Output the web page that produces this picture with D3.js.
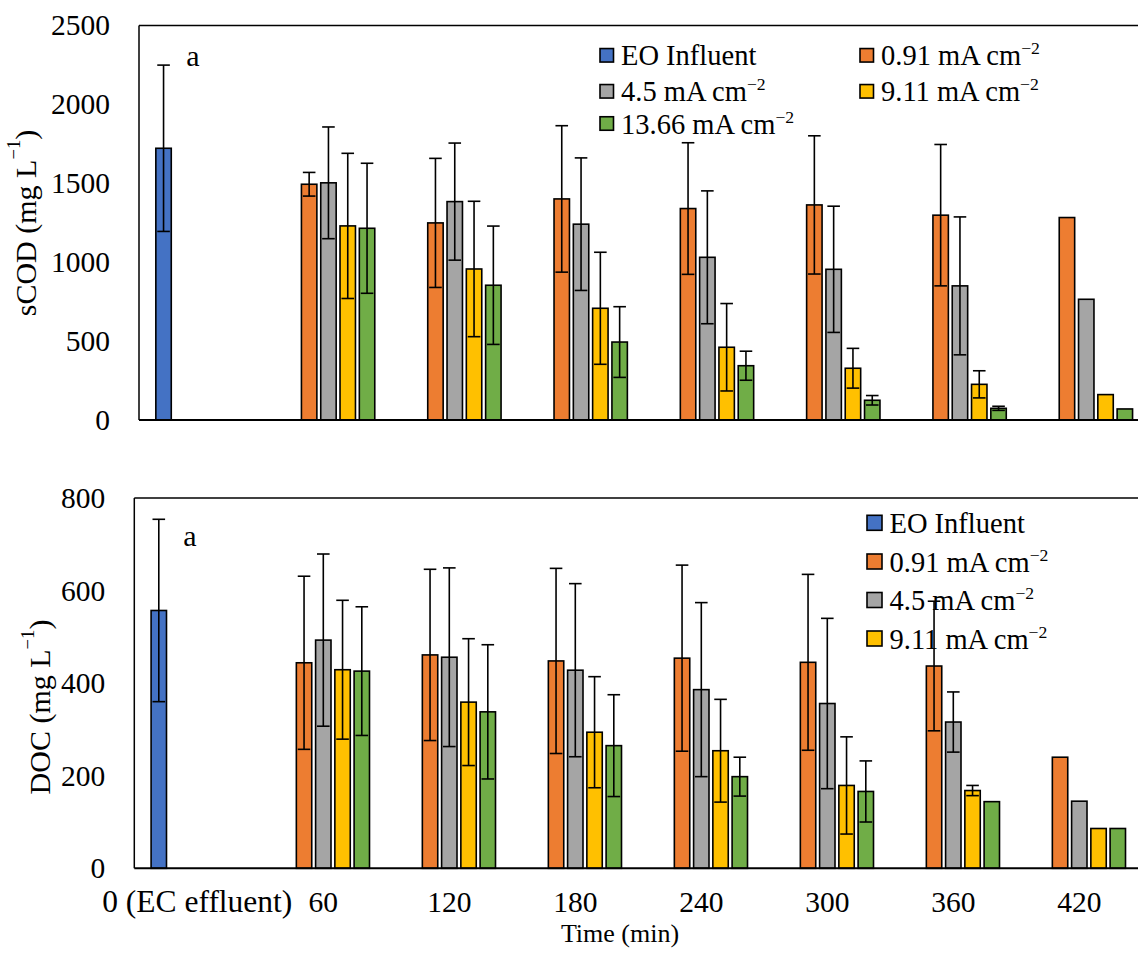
<!DOCTYPE html>
<html><head><meta charset="utf-8">
<script src="https://cdn.jsdelivr.net/npm/d3@7"></script>
<style>
html,body{margin:0;padding:0;background:#fff;}
svg{display:block;}
svg text{font-family:"Liberation Serif","Times New Roman",serif !important;}
</style></head>
<body>
<svg id="chart" width="1138" height="953"></svg>
<script>
// ---------- data ----------
const categories = ["0 (EC effluent)", "60", "120", "180", "240", "300", "360", "420"];
const seriesNames = ["EO Influent", "0.91", "4.5", "9.11", "13.66"];
const seriesColors = ["#4472C4", "#ED7D31", "#A5A5A5", "#FFC000", "#70AD47"];

// sCOD (mg L-1)
const scodInfluent = [1722, null, null, null, null, null, null, null];
const scod091 = [null, 1494, 1249, 1401, 1340, 1363, 1298, 1283];
const scod45  = [null, 1503, 1384, 1241, 1031, 955, 850, 765];
const scod911 = [null, 1230, 957, 708, 461, 328, 226, 161];
const scod1366 = [null, 1215, 854, 494, 344, 125, 74, 70];
const scodErrInfluent = [527, null, null, null, null, null, null, null];
const scodErr091 = [null, 75, 409, 464, 417, 438, 448, null];
const scodErr45  = [null, 354, 371, 420, 421, 400, 437, null];
const scodErr911 = [null, 460, 429, 355, 277, 126, 86, null];
const scodErr1366 = [null, 412, 375, 224, 92, 30, 13, null];
const scodTicks = [0, 500, 1000, 1500, 2000, 2500];

// DOC (mg L-1)
const docInfluent = [557, null, null, null, null, null, null, null];
const doc091 = [null, 444, 461, 448, 454, 445, 437, 240];
const doc45  = [null, 493, 456, 428, 386, 356, 316, 145];
const doc911 = [null, 429, 359, 294, 254, 179, 168, 86];
const doc1366 = [null, 426, 338, 265, 198, 166, 144, 86];
const docErrInfluent = [197, null, null, null, null, null, null, null];
const docErr091 = [null, 187, 185, 200, 201, 190, 140, null];
const docErr45  = [null, 186, 193, 187, 188, 184, 65, null];
const docErr911 = [null, 150, 137, 120, 111, 105, 11, null];
const docErr1366 = [null, 139, 145, 110, 42, 66, null, null];
const docTicks = [0, 200, 400, 600, 800];

// ---------- drawing ----------
const svg = d3.select("#chart");
const FONT_TICK = 29.5, FONT_LEG = 28.5;

function addUnit(textSel, base, sup) {
  textSel.append("tspan").text(base);
  textSel.append("tspan").attr("font-size", "0.62em").attr("dy", "-0.62em").text(sup);
}

function panel(opts) {
  const {x0, x1, yTop, yBase, max, ticks, values, errors, title, titleX, titleY, aX, aY, showX} = opts;
  const g = svg.append("g");
  const x = d3.scaleBand().domain(categories).range([x0, x1]).paddingInner(0.236).paddingOuter(0.118);
  const xs = d3.scaleBand().domain(seriesNames).range([0, x.bandwidth()]).paddingInner(0.2).paddingOuter(0.1);
  const y = d3.scaleLinear().domain([0, max]).range([yBase, yTop]);

  // frame (left + top), clipped at the right of the picture
  g.append("line").attr("x1", x0).attr("x2", x0).attr("y1", yTop).attr("y2", yBase)
    .attr("stroke", "#000").attr("stroke-width", 1.5);
  g.append("line").attr("x1", x0).attr("x2", x1).attr("y1", yTop).attr("y2", yTop)
    .attr("stroke", "#000").attr("stroke-width", 1.5);

  // y axis labels
  const ax = g.append("g").attr("transform", `translate(${x0},0)`)
    .call(d3.axisLeft(y).tickValues(ticks).tickSize(0).tickPadding(29).tickFormat(d3.format("d")));
  ax.attr("font-family", null).attr("font-size", null);
  ax.select(".domain").remove();
  ax.selectAll("text").attr("font-size", FONT_TICK).attr("fill", "#000");

  // bars
  seriesNames.forEach((s, si) => {
    const vals = values[si];
    categories.forEach((c, ci) => {
      const v = vals[ci];
      if (v == null) return;
      const bx = x(c) + xs(s);
      g.append("rect").attr("x", bx).attr("y", y(v)).attr("width", xs.bandwidth())
        .attr("height", y(0) - y(v)).attr("fill", seriesColors[si])
        .attr("stroke", "#000").attr("stroke-width", 1.6);
    });
  });
  // baseline
  g.append("line").attr("x1", x0).attr("x2", x1).attr("y1", yBase).attr("y2", yBase)
    .attr("stroke", "#000").attr("stroke-width", 2);
  // error bars
  seriesNames.forEach((s, si) => {
    const vals = values[si], errs = errors[si];
    categories.forEach((c, ci) => {
      const v = vals[ci], e = errs[ci];
      if (v == null || e == null) return;
      const cx = x(c) + xs(s) + xs.bandwidth() / 2;
      const hw = 6.3;
      const eg = g.append("g").attr("stroke", "#000").attr("stroke-width", 1.6);
      eg.append("line").attr("x1", cx).attr("x2", cx).attr("y1", y(v + e)).attr("y2", y(v - e));
      eg.append("line").attr("x1", cx - hw).attr("x2", cx + hw).attr("y1", y(v + e)).attr("y2", y(v + e));
      eg.append("line").attr("x1", cx - hw).attr("x2", cx + hw).attr("y1", y(v - e)).attr("y2", y(v - e));
    });
  });

  // y title
  const t = g.append("text").attr("transform", `translate(${titleX},${titleY}) rotate(-90)`)
    .attr("text-anchor", "middle").attr("dominant-baseline", "central").attr("font-size", 30).attr("fill", "#000");
  t.append("tspan").text(title + " (mg L");
  t.append("tspan").attr("font-size", "0.62em").attr("dy", "-0.62em").text("−1");
  t.append("tspan").attr("dy", "0.38em").text(")");

  // "a"
  g.append("text").attr("x", aX).attr("y", aY).attr("text-anchor", "middle").attr("font-size", 30).text("a");

  if (showX) {
    categories.forEach((c, ci) => {
      g.append("text").attr("x", x(c) + x.bandwidth() / 2).attr("y", 912)
        .attr("text-anchor", "middle").attr("font-size", ci === 0 ? 31.5 : FONT_TICK).text(c);
    });
  }
  return {x, xs, y};
}

panel({x0: 139, x1: 1149.4, yTop: 25.5, yBase: 420, max: 2500, ticks: scodTicks,
  values: [scodInfluent, scod091, scod45, scod911, scod1366],
  errors: [scodErrInfluent, scodErr091, scodErr45, scodErr911, scodErr1366],
  title: "sCOD", titleX: 25, titleY: 223, aX: 193, aY: 66, showX: false});

panel({x0: 134.3, x1: 1142.3, yTop: 498, yBase: 868.3, max: 800, ticks: docTicks,
  values: [docInfluent, doc091, doc45, doc911, doc1366],
  errors: [docErrInfluent, docErr091, docErr45, docErr911, docErr1366],
  title: "DOC", titleX: 39, titleY: 707, aX: 190, aY: 546, showX: true});

// x title
svg.append("text").attr("x", 620).attr("y", 942).attr("text-anchor", "middle")
  .attr("font-size", 26).text("Time (min)");

// legends
function legendItem(idx, sx, cy, size) {
  svg.append("rect").attr("x", sx).attr("y", cy - size / 2).attr("width", size).attr("height", size)
    .attr("fill", seriesColors[idx]).attr("stroke", "#000").attr("stroke-width", 1.6);
  const t = svg.append("text").attr("x", sx + size + 7.5).attr("y", cy + 10).attr("font-size", FONT_LEG).attr("fill", "#000");
  if (idx === 0) t.text(seriesNames[0]);
  else addUnit(t, seriesNames[idx] + " mA cm", "−2");
}
// top legend
legendItem(0, 600, 55.3, 13.5);
legendItem(1, 860, 55.3, 13.5);
legendItem(2, 600, 91.3, 13.5);
legendItem(3, 860, 91.3, 13.5);
legendItem(4, 600, 123.5, 13.5);
// bottom legend
legendItem(0, 867, 522.8, 15);
legendItem(1, 867, 561.5, 15);
legendItem(2, 867, 600, 15);
legendItem(3, 867, 638.5, 15);
</script>
</body></html>
